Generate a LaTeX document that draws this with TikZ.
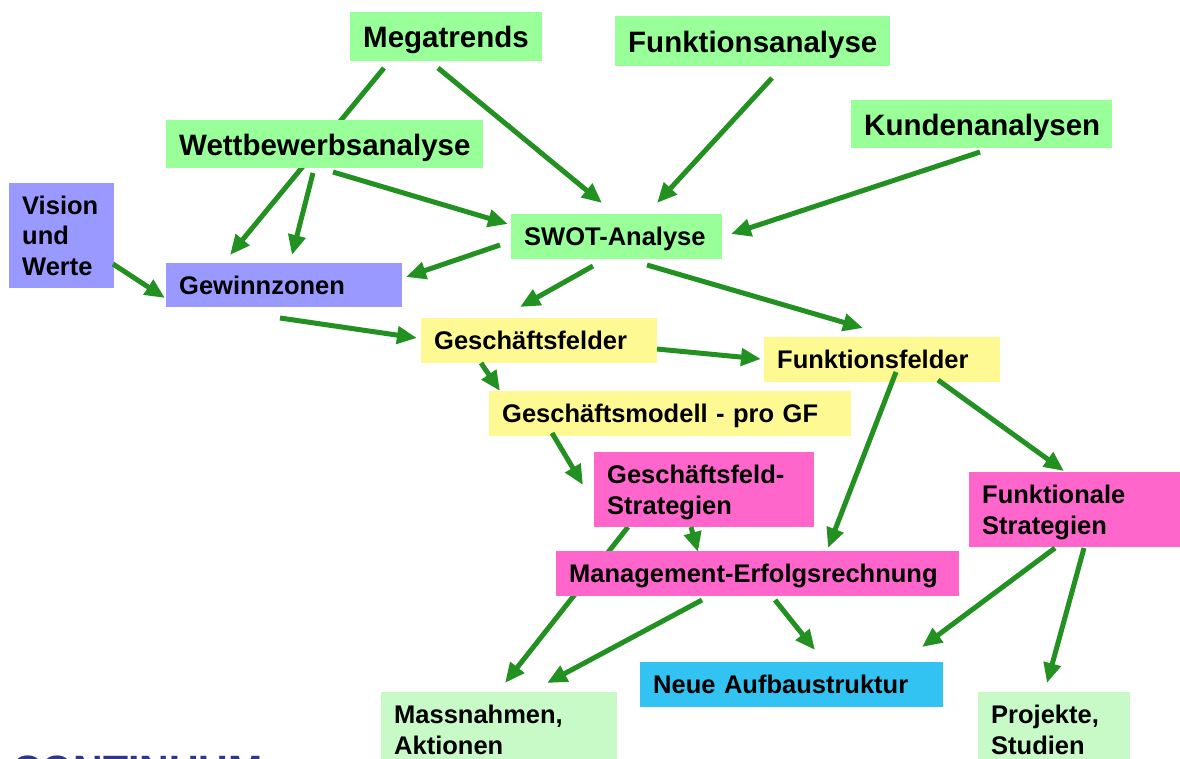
\documentclass[tikz,border=0pt]{standalone}
\usepackage{fontspec}
\setmainfont{Liberation Sans}
\usetikzlibrary{arrows.meta}
\definecolor{cgreen}{HTML}{99FF99}
\definecolor{clight}{HTML}{C8FAC8}
\definecolor{cblue}{HTML}{9999FF}
\definecolor{cyel}{HTML}{FFF993}
\definecolor{cmag}{HTML}{FF66CC}
\definecolor{ccyan}{HTML}{33C3F3}
\definecolor{carrow}{HTML}{229122}
\definecolor{clogo}{HTML}{2D378C}
\newcommand{\mystrut}{\rule[-6pt]{0pt}{30.5pt}}
\newcommand{\mybigstrut}{\rule[-6.5pt]{0pt}{35pt}}
\tikzset{
  box/.style={rectangle, anchor=north west, inner xsep=13pt, inner ysep=0pt, align=left},
  txs/.style={font=\fontsize{25.5}{30.5}\selectfont\bfseries},
  txb/.style={font=\fontsize{29.5}{35}\selectfont\bfseries},
  arr/.style={draw=carrow, line width=5pt, -{Triangle[length=20pt,width=17pt]}}
}
\begin{document}
\begin{tikzpicture}[x=1pt,y=-1pt]
\useasboundingbox (0,0) rectangle (1180,758);
\clip (0,0) rectangle (1180,758);

% connector end points
\coordinate (m1s) at (384,68);   \coordinate (m1e) at (230,255);
\coordinate (m2s) at (438,68);   \coordinate (m2e) at (602,203);
\coordinate (f1s) at (772,78);   \coordinate (f1e) at (657,203);
\coordinate (k1s) at (980,152);  \coordinate (k1e) at (731,234);
\coordinate (w1s) at (313,173);  \coordinate (w1e) at (292,255);
\coordinate (w2s) at (333,172);  \coordinate (w2e) at (508,224);
\coordinate (s1s) at (500,245);  \coordinate (s1e) at (406,277);
\coordinate (v1s) at (113,264);  \coordinate (v1e) at (165,298);
\coordinate (g1s) at (280,318);  \coordinate (g1e) at (417,338);
\coordinate (s2s) at (593,266);  \coordinate (s2e) at (520,307);
\coordinate (s3s) at (647,265);  \coordinate (s3e) at (863,328);
\coordinate (gf1s) at (657,349); \coordinate (gf1e) at (761,359);
\coordinate (gf2s) at (481,363); \coordinate (gf2e) at (500,391);
\coordinate (gm1s) at (552,433); \coordinate (gm1e) at (583,485);
\coordinate (ff1s) at (896,372); \coordinate (ff1e) at (828,548);
\coordinate (ff2s) at (938,380); \coordinate (ff2e) at (1064,471);
\coordinate (gs1s) at (691,527); \coordinate (gs1e) at (698,552);
\coordinate (gs2s) at (628,527); \coordinate (gs2e) at (505,683);
\coordinate (me1s) at (702,600); \coordinate (me1e) at (547,683);
\coordinate (me2s) at (775,600); \coordinate (me2e) at (815,650);
\coordinate (fs1s) at (1055,548);\coordinate (fs1e) at (922,647);
\coordinate (fs2s) at (1084,548);\coordinate (fs2e) at (1047,683);

% connectors that run behind boxes
\draw[arr] (m1s) -- (m1e);
\draw[arr] (gs2s) -- (gs2e);

% boxes
\node[box, txb, fill=cgreen, text width=166pt, minimum height=49pt] (meg) at (350,12) {\mybigstrut Megatrends};
\node[box, txb, fill=cgreen, text width=249pt, minimum height=50pt] (fa) at (615,16) {\mybigstrut Funktionsanalyse};
\node[box, txb, fill=cgreen, text width=235pt, minimum height=48pt] (ka) at (851,100) {\mybigstrut Kundenanalysen};
\node[box, txb, fill=cgreen, text width=291pt, minimum height=48pt] (wb) at (166,120) {\mybigstrut Wettbewerbsanalyse};
\node[box, txs, fill=cblue, text width=79pt, minimum height=105pt] (vis) at (9,183) {\mystrut Vision\\\mystrut und\\\mystrut Werte};
\node[box, txs, fill=cgreen, text width=185pt, minimum height=45pt] (swot) at (511,214) {\mystrut SWOT-Analyse};
\node[box, txs, fill=cblue, text width=210pt, minimum height=44pt] (gz) at (166,263) {\mystrut Gewinnzonen};
\node[box, txs, fill=cyel, text width=210pt, minimum height=45pt] (gf) at (421,318) {\mystrut Geschäftsfelder};
\node[box, txs, fill=cyel, text width=210pt, minimum height=45pt] (ff) at (764,337) {\mystrut Funktionsfelder};
\node[box, txs, fill=cyel, text width=336pt, minimum height=45pt] (gm) at (489,391) {\mystrut Geschäftsmodell - pro GF};
\node[box, txs, fill=cmag, text width=194pt, minimum height=75pt] (gfs) at (594,452) {\mystrut Geschäftsfeld-\\\mystrut Strategien};
\node[box, txs, fill=cmag, text width=185pt, minimum height=75pt] (fs) at (969,472) {\mystrut Funktionale\\\mystrut Strategien};
\node[box, txs, fill=cmag, text width=377pt, minimum height=45pt] (me) at (556,551) {\mystrut Management-Erfolgsrechnung};
\node[box, txs, fill=ccyan, text width=277pt, minimum height=45pt] (nau) at (640,662) {\mystrut Neue Aufbaustruktur};
\node[box, txs, fill=clight, text width=210pt, minimum height=75pt] (mas) at (381,692) {\mystrut Massnahmen,\\\mystrut Aktionen};
\node[box, txs, fill=clight, text width=126pt, minimum height=75pt] (pro) at (978,692) {\mystrut Projekte,\\\mystrut Studien};

\node[anchor=base west, inner sep=0pt, text=clogo, font=\fontsize{41}{45}\selectfont\bfseries] (logo) at (12,784) {CONTINUUM};

% connectors
\draw[arr] (m2s) -- (m2e);
\draw[arr] (f1s) -- (f1e);
\draw[arr] (k1s) -- (k1e);
\draw[arr] (w1s) -- (w1e);
\draw[arr] (w2s) -- (w2e);
\draw[arr] (s1s) -- (s1e);
\draw[arr] (v1s) -- (v1e);
\draw[arr] (g1s) -- (g1e);
\draw[arr] (s2s) -- (s2e);
\draw[arr] (s3s) -- (s3e);
\draw[arr] (gf1s) -- (gf1e);
\draw[arr] (gf2s) -- (gf2e);
\draw[arr] (gm1s) -- (gm1e);
\draw[arr] (ff1s) -- (ff1e);
\draw[arr] (ff2s) -- (ff2e);
\draw[arr] (gs1s) -- (gs1e);
\draw[arr] (me1s) -- (me1e);
\draw[arr] (me2s) -- (me2e);
\draw[arr] (fs1s) -- (fs1e);
\draw[arr] (fs2s) -- (fs2e);
\end{tikzpicture}
\end{document}
